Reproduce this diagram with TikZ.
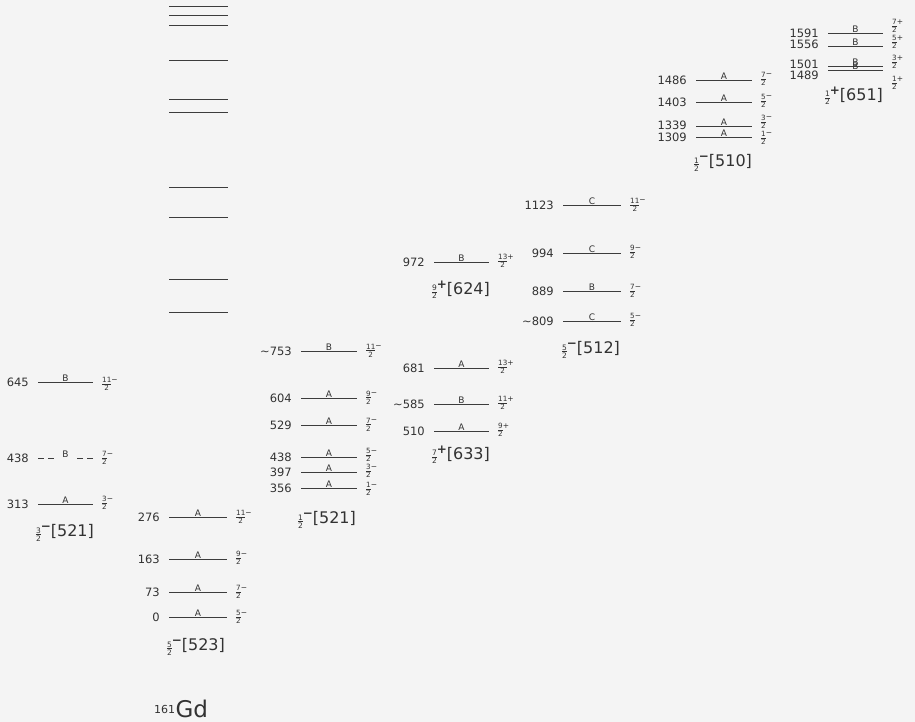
\documentclass[tikz,border=0pt]{standalone}
\usepackage{fontspec}
\setmainfont{DejaVu Sans}
\usetikzlibrary{calc}
\definecolor{paper}{RGB}{244,244,244}
\definecolor{ink}{RGB}{50,50,50}
\definecolor{rulecol}{RGB}{60,60,60}

% stacked fraction: #1 font size, #2 numerator, #3 denominator
\newcommand\stk[3]{\ensuremath{\vcenter{\offinterlineskip\halign{\hfil##\hfil\cr
  \fontsize{#1}{#1}\selectfont#2\cr
  \noalign{\kern1pt\hrule height 0.45pt\kern1pt}
  \fontsize{#1}{#1}\selectfont#3\cr}}}}
% spin-parity label of a level
\newcommand\spinlab[3]{\stk{7.2}{#1}{#2}\raisebox{4.5pt}{\fontsize{7.5}{7.5}\selectfont#3}}
% Nilsson band label
\newcommand\bandlab[4]{\stk{7.5}{#1}{#2}\raisebox{6pt}{\fontsize{12}{12}\selectfont\bfseries#3}\fontsize{16}{16}\selectfont[#4]}

\tikzset{
  levelline/.style={draw=rulecol, line width=0.8pt},
  enlab/.style={anchor=east, inner sep=0pt, text=ink, font=\fontsize{11.5}{11.5}\selectfont},
  keylab/.style={anchor=south, inner sep=0pt, text=ink, font=\fontsize{9}{9}\selectfont},
  spinnode/.style={anchor=west, inner sep=0pt, text=ink},
  bandnode/.style={inner sep=0pt, text=ink},
}

% one level: [energy-label options] name, y, energy, band key, 2I, sign, y of spin label
\newcommand\lvl[8][]{%
  \coordinate (#2-l) at (\xa,#3);
  \coordinate (#2-r) at (\xb,#3);
  \draw[levelline] (#2-l) -- (#2-r);
  \node[enlab,#1] (#2-e) at ([xshift=-9pt]#2-l) {#4};
  \node[keylab] (#2-k) at ($(#2-l)!0.5!(#2-r)+(0,-0.6)$) {#5};
  \node[spinnode] (#2-s) at (\xb+9,#8) {\spinlab{#6}{2}{#7}};
}

\begin{document}
\begin{tikzpicture}[x=1pt,y=-1pt]
\fill[paper] (0,0) rectangle (915,722);
\useasboundingbox (0,0) rectangle (915,722);

% 3/2- [521]
\def\xa{38}\def\xb{93}
\lvl{a645}{382.7}{645}{B}{11}{−}{384}
% dashed 438 level
\coordinate (a438-l) at (38,458);
\coordinate (a438-r) at (93,458);
\draw[levelline, dash pattern=on 6pt off 4pt] (a438-l) -- +(16,0);
\draw[levelline, dash pattern=on 6pt off 4pt] (a438-r) -- +(-16,0);
\node[enlab] (a438-e) at ([xshift=-9pt]a438-l) {438};
\node[keylab] (a438-k) at ($(a438-l)!0.5!(a438-r)+(0,-0.6)$) {B};
\node[spinnode] (a438-s) at (102,458) {\spinlab{7}{2}{−}};
\lvl{a313}{504}{313}{A}{3}{−}{503}
\node[bandnode] (ba) at (65,533) {\bandlab{3}{2}{−}{521}};

% 5/2- [523]
\def\xa{169}\def\xb{227}
\lvl{g276}{517.5}{276}{A}{11}{−}{517}
\lvl{g163}{559}{163}{A}{9}{−}{558}
\lvl{g73}{592.7}{73}{A}{7}{−}{592}
\lvl{g0}{617.5}{0}{A}{5}{−}{617}
\node[bandnode] (bg) at (196,647) {\bandlab{5}{2}{−}{523}};
% unassigned levels
\foreach \yy [count=\i] in {6.7,15,25,60,99.3,112.7,187,217,279.3,312.7}
  \draw[levelline] (169,\yy) coordinate (u\i-l) -- (228,\yy) coordinate (u\i-r);

% 1/2- [521]
\def\xa{301}\def\xb{357}
\lvl{c753}{351.7}{∼753}{B}{11}{−}{350.5}
\lvl{c604}{398}{604}{A}{9}{−}{397.5}
\lvl{c529}{425.7}{529}{A}{7}{−}{424.5}
\lvl{c438}{457}{438}{A}{5}{−}{455}
\lvl{c397}{472}{397}{A}{3}{−}{471}
\lvl{c356}{488}{356}{A}{1}{−}{489}
\node[bandnode] (bc) at (327,520) {\bandlab{1}{2}{−}{521}};

% 9/2+ [624] and 7/2+ [633]
\def\xa{434}\def\xb{489}
\lvl{d972}{262.7}{972}{B}{13}{+}{261}
\node[bandnode] (bd) at (461,290) {\bandlab{9}{2}{+}{624}};
\lvl{e681}{368}{681}{A}{13}{+}{367}
\lvl{e585}{404}{∼585}{B}{11}{+}{403}
\lvl{e510}{431}{510}{A}{9}{+}{430}
\node[bandnode] (be) at (461,455) {\bandlab{7}{2}{+}{633}};

% 5/2- [512]
\def\xa{563}\def\xb{621}
\lvl{f1123}{205.7}{1123}{C}{11}{−}{205}
\lvl{f994}{253}{994}{C}{9}{−}{252}
\lvl{f889}{291.7}{889}{B}{7}{−}{291}
\lvl{f809}{321}{∼809}{C}{5}{−}{320}
\node[bandnode] (bf) at (591,350) {\bandlab{5}{2}{−}{512}};

% 1/2- [510]
\def\xa{696}\def\xb{752}
\lvl{h1486}{80}{1486}{A}{7}{−}{79}
\lvl{h1403}{102.7}{1403}{A}{5}{−}{101}
\lvl[yshift=1.5pt]{h1339}{126.7}{1339}{A}{3}{−}{122}
\lvl{h1309}{137.3}{1309}{A}{1}{−}{138}
\node[bandnode] (bh) at (723,163) {\bandlab{1}{2}{−}{510}};

% 1/2+ [651]
\def\xa{828}\def\xb{883}
\lvl{k1591}{33.3}{1591}{B}{7}{+}{26}
\lvl[yshift=1.5pt]{k1556}{46}{1556}{B}{5}{+}{42}
\lvl[yshift=2pt]{k1501}{66.7}{1501}{B}{3}{+}{62}
\lvl[yshift=-5pt]{k1489}{70.7}{1489}{B}{1}{+}{83}
\node[bandnode] (bk) at (854,96) {\bandlab{1}{2}{+}{651}};

% nucleus
\node[inner sep=0pt, text=ink] (nuc) at (181,709) {\textsuperscript{\fontsize{11}{11}\selectfont 161}\fontsize{23}{23}\selectfont Gd};
\end{tikzpicture}
\end{document}
